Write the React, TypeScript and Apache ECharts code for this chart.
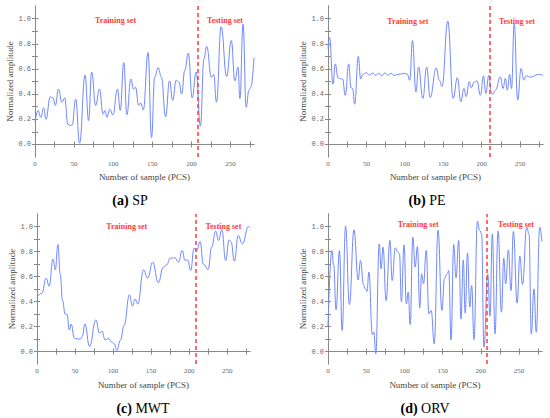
import React, { useEffect, useRef } from "react";
import * as echarts from "echarts";

// ---------- data ----------
const spData: [number, number][] = [
  [0, 0.18], [4, 0.27], [7.5, 0.215], [11, 0.29], [14, 0.2], [19.5, 0.38], [23, 0.37], [26, 0.31],
  [30, 0.44], [34.5, 0.335], [38, 0.37], [42, 0.16], [45, 0.15], [47.5, 0.155], [52, 0.36], [57, 0.01],
  [64, 0.55], [68.5, 0.19], [72.5, 0.575], [77.5, 0.31], [82.5, 0.44], [87, 0.24], [89.5, 0.27],
  [92, 0.215], [95.5, 0.28], [99.5, 0.235], [105.5, 0.44], [109, 0.27], [113.5, 0.65], [117.5, 0.235],
  [122.5, 0.52], [126, 0.44], [128.5, 0.455], [132.5, 0.31], [135, 0.33], [138.5, 0.275], [144.5, 0.73],
  [149, 0.055], [153, 0.535], [157.5, 0.61], [161.5, 0.535], [167, 0.22], [172, 0.505], [176, 0.35],
  [180.5, 0.51], [184, 0.495], [187.5, 0.4], [191.5, 0.59], [196, 0.725], [201, 0.37], [206, 0.575],
  [211.5, 0.145], [216, 0.68], [219.5, 0.78], [225.5, 0.535], [228.5, 0.555], [232, 0.335], [238, 0.935],
  [245, 0.54], [251, 0.825], [255.5, 0.505], [259.5, 0.615], [262, 0.365], [266, 0.955], [270, 0.295],
  [273.5, 0.43], [276, 0.455], [280, 0.69],
];

const peData: [number, number][] = [
  [0, 0.76], [2, 0.85], [6.5, 0.48], [9.5, 0.64], [13, 0.53], [16.5, 0.52], [19, 0.52], [22.5, 0.39],
  [27, 0.64], [30, 0.45], [32, 0.445], [34.7, 0.32], [39.5, 0.7], [42.5, 0.52], [45, 0.555], [50, 0.57],
  [54, 0.55], [58, 0.568], [62, 0.548], [66, 0.565], [70, 0.545], [74, 0.568], [78, 0.55], [82, 0.565],
  [86, 0.548], [90, 0.555], [95, 0.56], [100, 0.565], [103, 0.56], [106.5, 0.51], [110, 0.825],
  [114.5, 0.418], [118, 0.615], [123.5, 0.365], [128.5, 0.615], [133, 0.372], [141, 0.608], [145, 0.51],
  [148.5, 0.46], [156, 0.98], [163, 0.365], [168.5, 0.53], [173, 0.34], [177, 0.445], [180, 0.38],
  [184, 0.5], [186.5, 0.45], [190.5, 0.497], [194, 0.505], [198.5, 0.39], [202.5, 0.545], [205.5, 0.405],
  [209.5, 0.55], [212.5, 0.415], [214.5, 0.397], [218, 0.43], [224.5, 0.537], [228, 0.444], [231, 0.524],
  [233.5, 0.431], [236.5, 0.556], [239, 0.444], [242.5, 0.96], [247, 0.352], [251.5, 0.603], [255, 0.51],
  [258, 0.545], [264, 0.535], [274, 0.556], [280, 0.55],
];

const mwtData: [number, number][] = [
  [0, 0.435], [6.5, 0.467], [12, 0.587], [16, 0.523], [21, 0.74], [24, 0.653], [27.5, 0.856], [30.5, 0.62],
  [33.5, 0.41], [37, 0.3], [39.5, 0.296], [42.5, 0.173], [45, 0.22], [49, 0.107], [53, 0.1], [57, 0.1],
  [59.5, 0.12], [63, 0.221], [69, 0.04], [77.5, 0.253], [82, 0.147], [85.5, 0.163], [89.5, 0.093],
  [94, 0.104], [98.5, 0.075], [101.5, 0.061], [105, 0.008], [109.5, 0.088], [114.5, 0.208], [121.5, 0.453],
  [125.5, 0.363], [129, 0.42], [132.5, 0.38], [140, 0.653], [145.5, 0.587], [152, 0.715], [159.5, 0.55],
  [166, 0.675], [170.5, 0.693], [175, 0.747], [181.5, 0.749], [186, 0.715], [191, 0.808], [194.5, 0.728],
  [198, 0.733], [202, 0.648], [206.5, 0.827], [210, 0.808], [214.5, 0.88], [218.5, 0.7], [225, 0.656],
  [229.5, 0.835], [235, 0.963], [238.5, 0.888], [243, 0.973], [248, 0.728], [252.5, 0.893], [255, 0.88],
  [259.5, 0.723], [264.5, 0.928], [270, 0.861], [278, 1.0], [280, 0.99],
];

const orvData: [number, number][] = [
  [0, 0.2], [5, 0.808], [7.5, 0.69], [10.5, 0.333], [15, 0.808], [18.5, 0.168], [23, 1.003], [28, 0.376],
  [34, 0.973], [39.5, 0.573], [42.5, 0.728], [46.5, 0.533], [49, 0.5], [51, 0.48], [53.5, 0.635],
  [58, 0.136], [60, 0.155], [62.5, -0.019], [67, 0.861], [69.5, 0.661], [72, 0.835], [76, 0.408],
  [81, 0.888], [84, 0.568], [88, 0.829], [91.5, 0.795], [93.5, 0.781], [96, 0.4], [99.5, 0.853],
  [102.5, 0.381], [105, 0.475], [107.5, 0.216], [111, 0.915], [114, 0.675], [117, 0.84], [120, 0.349],
  [122.5, 0.621], [125, 0.541], [128.5, 0.808], [132, 0.301], [135, 0.328], [139, 0.061], [144, 0.97],
  [149, 0.328], [152.5, 0.589], [156, 0.621], [158, 0.648], [161, 0.093], [164.5, 0.856], [167.5, 0.589],
  [171, 0.888], [174, 0.261], [177, 0.733], [179.5, 0.307], [182.5, 0.789], [185.5, 0.355], [188, 0.528],
  [191, 0.096], [195.5, 1.043], [198.5, 0.968], [201, 0.941], [204, 0.035], [209, 0.62], [212, 0.283],
  [215, 0.941], [218.5, 0.141], [222.5, 0.963], [227, 0.315], [230, 0.747], [232.5, 0.541], [236, 0.813],
  [239.5, 0.488], [242.5, 0.96], [247.5, 0.387], [251, 0.763], [254.5, 0.536], [260, 0.995], [263, 0.941],
  [266, 0.141], [269.5, 0.501], [272.5, 0.155], [277, 0.995], [280, 0.88],
];

// train / test split position on each panel
const splitPoints = [208, 210, 209, 208];
const panelLetters = ["(a)", "(b)", "(c)", "(d)"];
const panelNames = ["SP", "PE", "MWT", "ORV"];
const trainLabel = "Training set";
const testLabel = "Testing set";
const xAxisName = "Number of sample (PCS)";
const yAxisName = "Normalized amplitude";

const xLabelValues = [0, 50, 100, 150, 200, 250];
const xTickValues = [0, 25, 50, 75, 100, 125, 150, 175, 200, 225, 250, 275];
const yLabelValues = [0, 0.2, 0.4, 0.6, 0.8, 1.0];
const yTickValues = [0, 0.1, 0.2, 0.3, 0.4, 0.5, 0.6, 0.7, 0.8, 0.9, 1.0];
const xRange = [0, 280];
const yRange = [-0.1, 1.1];

// label anchor positions (data coords) for the set labels
const trainPos: [number, number][] = [[103, 0.985], [104, 0.98], [118, 1.0], [118, 1.015]];
const testPos: [number, number][] = [[243, 0.985], [246, 0.98], [245, 1.0], [246, 1.015]];

const allData = [spData, peData, mwtData, orvData];

// ---------- layout ----------
const grids = [
  { left: 35, top: 6, width: 219, height: 151 },
  { left: 328, top: 6, width: 215, height: 151 },
  { left: 37, top: 214, width: 213, height: 150 },
  { left: 328, top: 214, width: 214, height: 150 },
];
const titleCenters = [
  [130, 200],
  [427, 200],
  [143, 408],
  [425, 408],
];
const xNameGaps = [15, 15, 16, 16];
const yNameGaps = [17, 18, 17, 18];

const SERIF = "Liberation Serif";
const MONO = "Liberation Mono";
const AXIS_COLOR = "#888";
const LABEL_COLOR = "#666";
const LINE_COLOR = "#7088ff";
const RED = "#ff3b3b";

export default function App() {
  const ref = useRef<HTMLDivElement>(null);

  useEffect(() => {
    if (!ref.current) return;
    const chart = echarts.init(ref.current, undefined, { renderer: "svg" });

    const xAxes: any[] = [];
    const yAxes: any[] = [];
    const series: any[] = [];

    allData.forEach((data, i) => {
      const tickStyle = { lineStyle: { color: AXIS_COLOR, width: 1 } };
      xAxes.push({
        gridIndex: i,
        type: "value",
        position: "bottom",
        min: xRange[0],
        max: xRange[1],
        axisLine: { show: true, lineStyle: { color: AXIS_COLOR, width: 1 } },
        axisTick: { show: true, inside: true, length: 3, customValues: xTickValues, ...tickStyle },
        axisLabel: {
          customValues: xLabelValues,
          fontSize: 7,
          color: LABEL_COLOR,
          margin: 3,
          fontFamily: SERIF,
        },
        splitLine: { show: false },
        name: xAxisName,
        nameLocation: "middle",
        nameGap: xNameGaps[i],
        nameTextStyle: { fontSize: 9, color: "#444", fontFamily: SERIF },
      });
      xAxes.push({
        gridIndex: i,
        type: "value",
        position: "top",
        min: xRange[0],
        max: xRange[1],
        axisLine: { show: true, lineStyle: { color: AXIS_COLOR, width: 1 } },
        axisTick: { show: true, inside: true, length: 3, customValues: xTickValues, ...tickStyle },
        axisLabel: { show: false },
        splitLine: { show: false },
      });
      yAxes.push({
        gridIndex: i,
        type: "value",
        position: "left",
        min: yRange[0],
        max: yRange[1],
        axisLine: { show: true, lineStyle: { color: AXIS_COLOR, width: 1 } },
        axisTick: { show: true, inside: true, length: 3, customValues: yTickValues, ...tickStyle },
        axisLabel: {
          customValues: yLabelValues,
          formatter: (v: number) => v.toFixed(1),
          fontSize: 7,
          color: LABEL_COLOR,
          margin: 4,
          fontFamily: MONO,
        },
        splitLine: { show: false },
        name: yAxisName,
        nameLocation: "middle",
        nameGap: yNameGaps[i],
        nameTextStyle: { fontSize: 9, color: "#444", fontFamily: SERIF },
      });
      yAxes.push({
        gridIndex: i,
        type: "value",
        position: "right",
        min: yRange[0],
        max: yRange[1],
        axisLine: { show: true, lineStyle: { color: AXIS_COLOR, width: 1 } },
        axisTick: { show: true, inside: true, length: 3, customValues: yTickValues, ...tickStyle },
        axisLabel: { show: false },
        splitLine: { show: false },
      });

      series.push({
        type: "line",
        xAxisIndex: 2 * i,
        yAxisIndex: 2 * i,
        data,
        smooth: 0.45,
        smoothMonotone: "x",
        showSymbol: false,
        symbol: "none",
        lineStyle: { color: LINE_COLOR, width: 1 },
        silent: true,
        markLine: {
          silent: true,
          symbol: "none",
          label: { show: false },
          lineStyle: { type: [4, 3], color: RED, width: 1.5 },
          data: [{ xAxis: splitPoints[i] }],
        },
        markPoint: {
          silent: true,
          symbol: "circle",
          symbolSize: 0,
          label: {
            show: true,
            position: "inside",
            formatter: "{b}",
            color: RED,
            fontSize: 8,
            fontWeight: "bold",
            fontFamily: SERIF,
          },
          data: [
            { name: trainLabel, coord: trainPos[i] },
            { name: testLabel, coord: testPos[i] },
          ],
        },
      });
    });

    chart.setOption({
      animation: false,
      backgroundColor: "#fff",
      textStyle: { fontFamily: SERIF },
      grid: grids.map((g) => ({ ...g, containLabel: false })),
      xAxis: xAxes,
      yAxis: yAxes,
      series,
      graphic: panelNames.map((name, i) => ({
        type: "text",
        x: titleCenters[i][0],
        y: titleCenters[i][1],
        style: {
          text: `{b|${panelLetters[i]}}{n| ${name}}`,
          align: "center",
          verticalAlign: "middle",
          font: "14px 'Liberation Serif'",
          rich: {
            b: { fontFamily: SERIF, fontSize: 14, fontWeight: "bold", fill: "#000" },
            n: { fontFamily: SERIF, fontSize: 14, fontWeight: "normal", fill: "#000" },
          },
        },
      })),
    });

    return () => chart.dispose();
  }, []);

  return (
    <div
      ref={ref}
      style={{ position: "fixed", left: 0, top: 0, width: 550, height: 418 }}
    />
  );
}
